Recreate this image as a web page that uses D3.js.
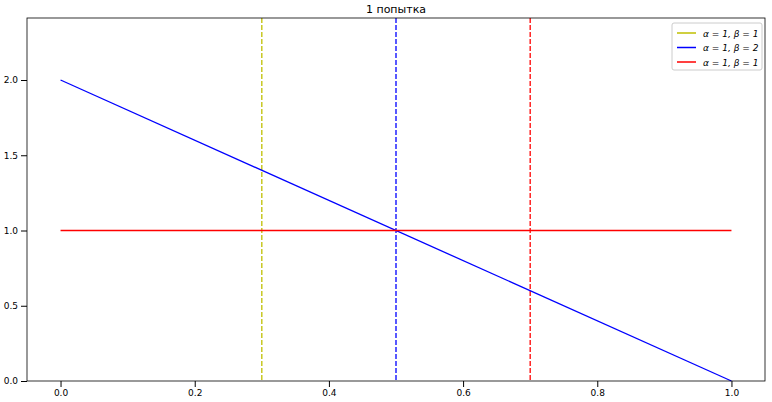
<!DOCTYPE html><html><head><meta charset="utf-8"><script src="https://cdn.jsdelivr.net/npm/d3@7"></script>
<style>body{margin:0;background:#fff}text{font-family:"DejaVu Sans",sans-serif}</style></head><body><svg width="772" height="402"></svg><script>
const xs=[0,1];
const blueY=[2,0];
const redY=[1,1];
const vlines=[0.3,0.5,0.7];
const vcolors=["#bfbf00","#0000ff","#ff0000"];
const legendLabels=["α = 1, β = 1","α = 1, β = 2","α = 1, β = 1"];
const xTicks=[0,0.2,0.4,0.6,0.8,1.0];
const yTicks=[0,0.5,1.0,1.5,2.0];
const svg=d3.select("svg");
const L=27,R=765,T=18,B=381;
const x=d3.scaleLinear().domain([-0.05,1.05]).range([L,R]);
const y=d3.scaleLinear().domain([0,2.412]).range([B,T]);
svg.append("g").attr("transform",`translate(0,${B})`).call(d3.axisBottom(x).tickValues(xTicks).tickFormat(d3.format(".1f")).tickSizeOuter(0)).call(g=>g.select(".domain").remove());
svg.append("g").attr("transform",`translate(${L},0)`).call(d3.axisLeft(y).tickValues(yTicks).tickFormat(d3.format(".1f")).tickSizeOuter(0)).call(g=>g.select(".domain").remove());
svg.selectAll(".tick text").attr("font-size",9);
vlines.forEach((v,i)=>svg.append("line").attr("x1",x(v)).attr("x2",x(v)).attr("y1",T).attr("y2",B).attr("stroke",vcolors[i]).attr("stroke-width",1.3).attr("stroke-dasharray","5,2"));
const ln=d3.line().x((d,i)=>x(xs[i])).y(d=>y(d));
svg.append("path").attr("d",ln(blueY)).attr("stroke","#0000ff").attr("fill","none").attr("stroke-width",1.3);
svg.append("path").attr("d",ln(redY)).attr("stroke","#ff0000").attr("fill","none").attr("stroke-width",1.5);
svg.append("rect").attr("x",L).attr("y",T).attr("width",R-L).attr("height",B-T).attr("fill","none").attr("stroke","#000").attr("stroke-width",0.8);
svg.append("text").attr("x",(L+R)/2).attr("y",T-5).attr("text-anchor","middle").attr("font-size",11).text("1 попытка");
const lg=svg.append("g").attr("transform","translate(672,23)");
lg.append("rect").attr("width",90).attr("height",47).attr("rx",2).attr("fill","#fff").attr("stroke","#ccc");
legendLabels.forEach((t,i)=>{const yy=10+i*14.5;
lg.append("line").attr("x1",5).attr("x2",24).attr("y1",yy).attr("y2",yy).attr("stroke",vcolors[i]).attr("stroke-width",1.5);
lg.append("text").attr("x",31).attr("y",yy+3.5).attr("font-size",9).attr("font-style","italic").text(t);});
</script></body></html>
